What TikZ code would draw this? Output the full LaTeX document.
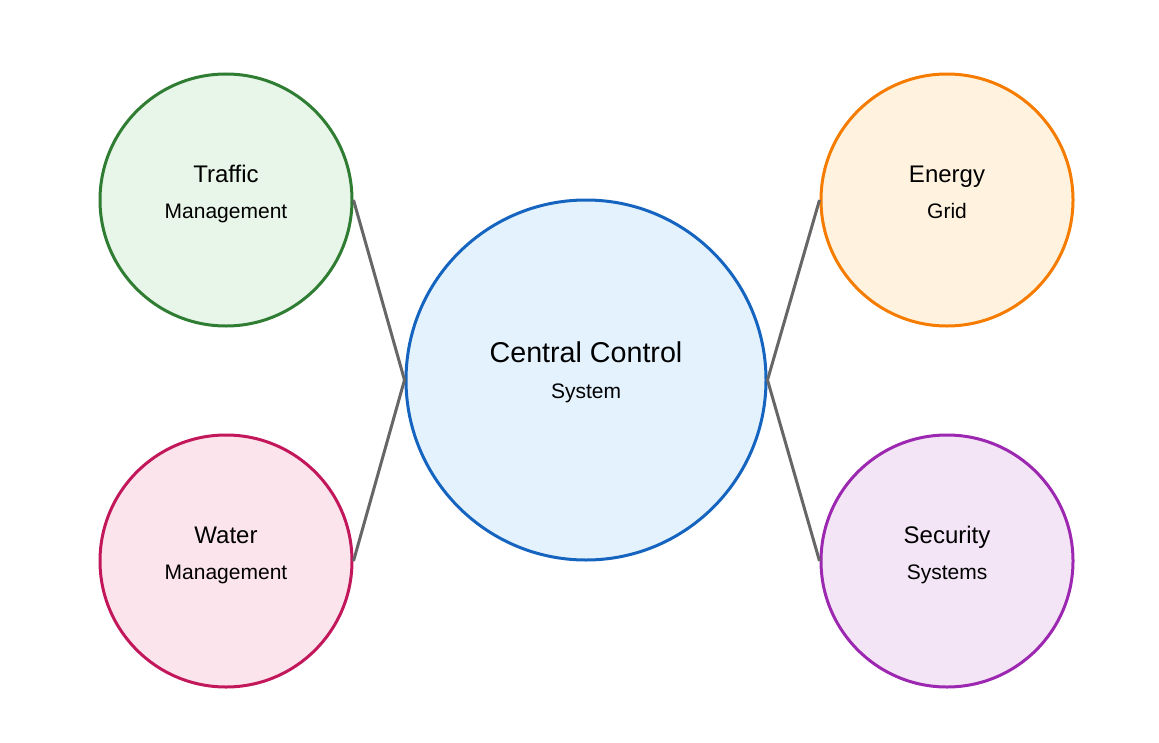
\documentclass[tikz,border=0pt]{standalone}
\usepackage{fontspec}
\setmainfont{Liberation Sans}
\definecolor{trafficline}{HTML}{2E7D32}
\definecolor{trafficfill}{HTML}{E8F5E9}
\definecolor{waterline}{HTML}{C2185B}
\definecolor{waterfill}{HTML}{FCE4EC}
\definecolor{centralline}{HTML}{1565C0}
\definecolor{centralfill}{HTML}{E3F2FD}
\definecolor{energyline}{HTML}{F57C00}
\definecolor{energyfill}{HTML}{FFF3E0}
\definecolor{securityline}{HTML}{9C27B0}
\definecolor{securityfill}{HTML}{F3E5F5}
\definecolor{linkgray}{HTML}{666666}
\begin{document}
\begin{tikzpicture}[
x=0.75pt,y=-0.75pt,
hub/.style={circle,draw=#1line,fill=#1fill,line width=2.25pt,inner sep=0pt},
big/.style={minimum size=270pt},
small/.style={minimum size=189pt},
link/.style={draw=linkgray,line width=2.25pt},
bigtitle/.style={anchor=base,font=\fontsize{21.5}{24}\selectfont},
title/.style={anchor=base,font=\fontsize{18}{21}\selectfont},
sub/.style={anchor=base,font=\fontsize{15.75}{18}\selectfont},
]
\useasboundingbox (0,0) rectangle (1159,742);
\node[hub=central,big] (central) at (586,380) {};
\node[hub=traffic,small] (traffic) at (226,200) {};
\node[hub=water,small] (water) at (226,561) {};
\node[hub=energy,small] (energy) at (947,200) {};
\node[hub=security,small] (security) at (947,561) {};
\path[link]
    (traffic.east) -- (central.west)
    (water.east) -- (central.west)
    (energy.west) -- (central.east)
    (security.west) -- (central.east);
% labels
\node[bigtitle] (centralname) at (586,362) {Central Control};
\node[sub] (centralsub) at (586,398) {System};
\node[title] (trafficname) at (226,182) {Traffic};
\node[sub] (trafficsub) at (226,218) {Management};
\node[title] (watername) at (226,543) {Water};
\node[sub] (watersub) at (226,579) {Management};
\node[title] (energyname) at (947,182) {Energy};
\node[sub] (energysub) at (947,218) {Grid};
\node[title] (securityname) at (947,543) {Security};
\node[sub] (securitysub) at (947,579) {Systems};
\end{tikzpicture}
\end{document}
